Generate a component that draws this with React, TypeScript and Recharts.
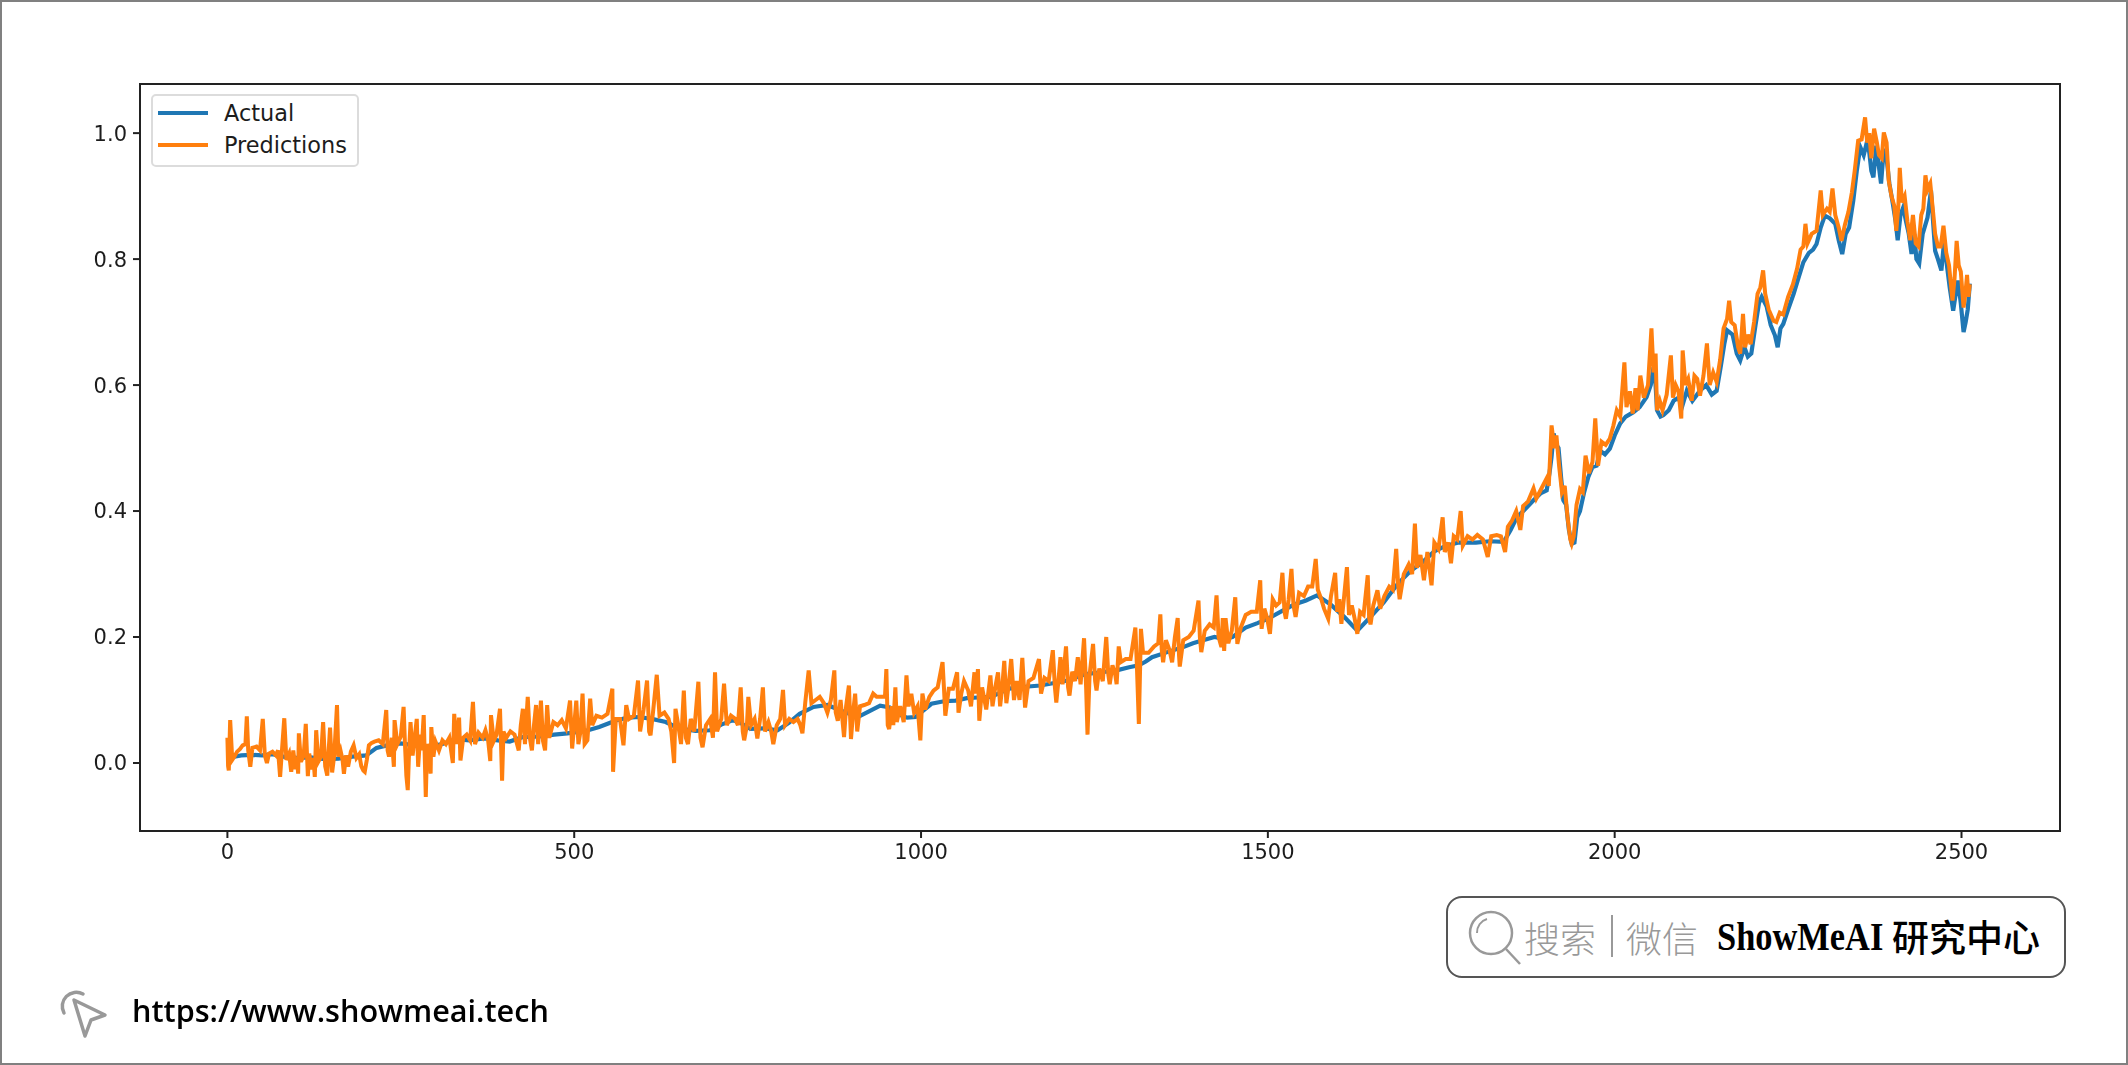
// Actual vs predictions line chart with the ShowMeAI frame around it
import { LineChart, Line, XAxis, YAxis, Legend, ReferenceArea } from 'recharts';

const xTicks = [0, 500, 1000, 1500, 2000, 2500];
const yTicks = [0, 0.2, 0.4, 0.6, 0.8, 1.0];
const xDomain = [-126, 2642];
const yDomain = [-0.108, 1.078];

// [index, value]
const actualLow: [number, number][] = [
  [0, 0.006], [10, 0.01], [20, 0.012], [35, 0.013], [50, 0.012], [65, 0.014], [80, 0.01], [100, 0.008], [120, 0.009], [140, 0.006], [160, 0.007], [180, 0.01],
  [200, 0.012], [215, 0.024], [230, 0.028], [250, 0.031], [270, 0.028], [290, 0.026], [310, 0.03], [330, 0.038], [349, 0.036], [370, 0.039], [390, 0.036], [407, 0.034],
  [425, 0.041], [450, 0.042], [471, 0.045], [490, 0.047], [503, 0.049], [520, 0.052], [536, 0.057], [550, 0.063], [561, 0.068], [578, 0.072], [593, 0.073], [612, 0.07],
  [632, 0.065], [645, 0.058], [657, 0.054], [675, 0.051], [696, 0.052], [712, 0.061], [729, 0.068], [742, 0.062], [754, 0.054], [775, 0.055], [793, 0.052], [810, 0.064],
  [825, 0.078], [845, 0.089], [865, 0.092], [885, 0.083], [909, 0.073], [925, 0.082], [941, 0.091], [955, 0.088], [966, 0.078], [980, 0.072], [992, 0.073], [1004, 0.084],
  [1015, 0.094], [1033, 0.098], [1050, 0.099], [1066, 0.103], [1082, 0.104], [1101, 0.105], [1115, 0.112], [1127, 0.118], [1150, 0.121], [1172, 0.123], [1192, 0.127], [1211, 0.131],
  [1224, 0.136], [1237, 0.141], [1260, 0.144], [1282, 0.147], [1300, 0.152], [1314, 0.155], [1324, 0.161], [1333, 0.168], [1355, 0.176], [1378, 0.184], [1392, 0.19], [1404, 0.194],
  [1423, 0.2], [1436, 0.197], [1449, 0.2], [1468, 0.215], [1485, 0.222], [1500, 0.229], [1520, 0.241], [1539, 0.252], [1555, 0.258], [1571, 0.266], [1590, 0.252], [1610, 0.232],
  [1629, 0.21], [1648, 0.232], [1667, 0.255], [1687, 0.284], [1706, 0.305], [1722, 0.318], [1740, 0.336], [1757, 0.345], [1775, 0.35], [1800, 0.35], [1820, 0.352], [1840, 0.351],
];

const actualHigh: [number, number][] = [
  [1850, 0.37], [1859, 0.39], [1870, 0.402], [1883, 0.417], [1893, 0.428], [1902, 0.433], [1906, 0.46], [1909, 0.486], [1912, 0.523], [1916, 0.505], [1919, 0.5], [1923, 0.45],
  [1926, 0.417], [1930, 0.41], [1934, 0.37], [1938, 0.348], [1942, 0.35], [1946, 0.39], [1950, 0.4], [1956, 0.43], [1962, 0.454], [1968, 0.47], [1974, 0.472], [1979, 0.496],
  [1986, 0.49], [1993, 0.499], [2000, 0.52], [2008, 0.539], [2016, 0.55], [2027, 0.557], [2036, 0.565], [2046, 0.581], [2052, 0.6], [2056, 0.628], [2059, 0.6], [2061, 0.56],
  [2066, 0.55], [2070, 0.552], [2078, 0.56], [2085, 0.575], [2092, 0.58], [2097, 0.565], [2104, 0.591], [2112, 0.575], [2123, 0.591], [2132, 0.6], [2140, 0.585], [2147, 0.591],
  [2153, 0.63], [2158, 0.665], [2162, 0.687], [2170, 0.68], [2176, 0.65], [2181, 0.639], [2187, 0.66], [2192, 0.645], [2197, 0.65], [2203, 0.695], [2208, 0.73], [2212, 0.74],
  [2219, 0.725], [2225, 0.695], [2231, 0.679], [2235, 0.66], [2239, 0.69], [2243, 0.697], [2250, 0.72], [2258, 0.745], [2265, 0.77], [2272, 0.795], [2280, 0.81], [2286, 0.815],
  [2291, 0.824], [2297, 0.85], [2303, 0.869], [2310, 0.865], [2318, 0.856], [2323, 0.83], [2328, 0.808], [2333, 0.84], [2338, 0.85], [2344, 0.893], [2349, 0.94], [2354, 0.978],
  [2359, 0.965], [2363, 0.983], [2367, 0.97], [2370, 0.94], [2373, 0.93], [2377, 0.98], [2380, 0.955], [2384, 0.92], [2388, 0.975], [2392, 0.96], [2396, 0.92], [2401, 0.888],
  [2405, 0.86], [2408, 0.83], [2412, 0.87], [2416, 0.882], [2420, 0.86], [2424, 0.84], [2428, 0.808], [2432, 0.84], [2435, 0.8], [2439, 0.793], [2444, 0.84], [2451, 0.866],
  [2456, 0.909], [2459, 0.86], [2462, 0.813], [2466, 0.8], [2471, 0.782], [2475, 0.829], [2479, 0.79], [2483, 0.755], [2488, 0.718], [2491, 0.74], [2495, 0.766], [2499, 0.73],
  [2503, 0.684], [2506, 0.7], [2509, 0.72], [2512, 0.761],
];

const predictionsEarly: [number, number][] = [
  [0, 0.04], [1, -0.005], [2, -0.012], [4, 0.068], [7, 0.005], [10, 0.01], [14, 0.018], [18, 0.022], [22, 0.028], [26, 0.03], [28, 0.074], [30, 0.02], [33, -0.006], [36, 0.024],
  [42, 0.026], [47, 0.02], [51, 0.07], [54, 0.012], [57, 0], [60, 0.015], [65, 0.018], [70, 0.012], [73, 0.02], [76, -0.022], [78, 0.01], [82, 0.071], [85, 0.005], [89, 0.015],
  [92, -0.014], [95, 0.02], [98, -0.01], [100, 0.01], [102, -0.017], [103, 0.047], [106, 0.002], [110, 0.012], [113, 0.062], [116, -0.021], [118, 0.015], [121, -0.01], [124, 0.008],
  [126, -0.022], [128, 0.052], [131, 0.002], [135, 0.01], [138, 0.065], [141, -0.005], [144, -0.02], [146, 0.02], [148, 0.056], [151, -0.015], [154, 0.012], [158, 0.092], [160, 0.01],
  [163, 0.02], [166, 0.005], [168, -0.017], [171, 0.012], [174, -0.006], [178, 0.018], [182, 0.028], [186, 0.008], [190, 0.014], [193, -0.005], [196, -0.012], [198, -0.014], [201, 0.005],
  [204, 0.028], [208, 0.032], [212, 0.034], [218, 0.036], [224, 0.03], [229, 0.084], [231, 0.02], [233, 0.01], [237, 0.04], [240, -0.006], [241, 0.068], [245, 0.03], [250, 0.042],
  [254, 0.089], [256, 0.03], [258, -0.02], [260, -0.043], [262, 0.02], [264, 0.065], [267, 0.012], [270, 0.04], [273, 0.07], [275, -0.006], [278, 0.045], [280, 0.02], [283, 0.076],
  [286, -0.054], [288, 0.03], [291, 0.02], [293, -0.017], [294, 0.057], [297, 0.01], [300, 0.034], [305, 0.02], [310, 0.036], [315, 0.03], [320, 0.04], [325, 0], [327, 0.078], [330, 0.03],
  [334, 0.072], [336, 0.004], [340, 0.04], [345, 0.045], [350, 0.036], [354, 0.097], [357, 0.03], [362, 0.048], [368, 0.04], [372, 0.052], [376, 0.035], [379, 0.003], [380, 0.076], [384, 0.035],
  [388, 0.045], [393, 0.086], [396, -0.028], [398, 0.05], [402, 0.04], [408, 0.05], [414, 0.045], [420, 0.02], [423, 0.06], [426, 0.086], [429, 0.03], [433, 0.105], [436, 0.04], [439, 0.02],
  [442, 0.06], [445, 0.092], [448, 0.03], [452, 0.099], [455, 0.035], [458, 0.02], [461, 0.092], [464, 0.04], [470, 0.065], [476, 0.06], [482, 0.068], [488, 0.055], [494, 0.099], [497, 0.023],
  [500, 0.06], [503, 0.099], [506, 0.03], [509, 0.05], [512, 0.11], [515, 0.03], [519, 0.036], [523, 0.102], [526, 0.06], [532, 0.075], [540, 0.072], [548, 0.078], [555, 0.118], [556, -0.014],
  [560, 0.07], [566, 0.07], [571, 0.028], [575, 0.092], [579, 0.07], [586, 0.075], [592, 0.131], [595, 0.05], [600, 0.085], [605, 0.131], [608, 0.05], [610, 0.044], [614, 0.085], [619, 0.14],
  [623, 0.075], [630, 0.08], [636, 0.07], [640, 0.05], [644, 0], [646, 0.086], [650, 0.06], [654, 0.03], [658, 0.115], [661, 0.04], [664, 0.03], [668, 0.07], [673, 0.05], [679, 0.129], [682, 0.04],
  [685, 0.025], [690, 0.06], [696, 0.07], [700, 0.04], [703, 0.144], [706, 0.05], [712, 0.07], [716, 0.126], [720, 0.06], [726, 0.075], [732, 0.07], [736, 0.06], [740, 0.12], [743, 0.05],
  [745, 0.036], [749, 0.06], [751, 0.105], [755, 0.06], [760, 0.07], [764, 0.039], [768, 0.07], [772, 0.12], [775, 0.05], [780, 0.065], [784, 0.05], [787, 0.03], [792, 0.06], [797, 0.07],
  [801, 0.116], [804, 0.06], [810, 0.07], [816, 0.065], [822, 0.07], [826, 0.06], [829, 0.047], [833, 0.095], [838, 0.147], [842, 0.095], [848, 0.1], [854, 0.105], [860, 0.095],
];

const predictionsMid: [number, number][] = [
  [865, 0.08], [870, 0.1], [875, 0.147], [877, 0.08], [880, 0.067], [884, 0.1], [889, 0.041], [892, 0.09], [896, 0.123], [899, 0.038], [902, 0.08], [905, 0.11], [908, 0.05], [912, 0.09],
  [918, 0.092], [925, 0.095], [931, 0.11], [936, 0.105], [942, 0.105], [948, 0.105], [950, 0.149], [952, 0.06], [954, 0.054], [958, 0.09], [960, 0.06], [963, 0.12], [965, 0.065], [970, 0.09],
  [975, 0.065], [979, 0.139], [982, 0.09], [986, 0.11], [990, 0.08], [995, 0.09], [999, 0.036], [1002, 0.11], [1006, 0.085], [1012, 0.105], [1018, 0.115], [1024, 0.12], [1031, 0.16], [1033, 0.12],
  [1035, 0.075], [1040, 0.118], [1046, 0.118], [1052, 0.144], [1054, 0.08], [1058, 0.11], [1062, 0.13], [1068, 0.115], [1072, 0.09], [1077, 0.144], [1079, 0.11], [1082, 0.149], [1084, 0.067],
  [1088, 0.12], [1094, 0.085], [1100, 0.139], [1103, 0.09], [1107, 0.12], [1111, 0.144], [1114, 0.09], [1117, 0.12], [1120, 0.162], [1123, 0.095], [1126, 0.12], [1130, 0.165], [1134, 0.1],
  [1138, 0.13], [1142, 0.1], [1146, 0.167], [1150, 0.088], [1155, 0.13], [1162, 0.135], [1170, 0.165], [1173, 0.11], [1178, 0.135], [1184, 0.13], [1190, 0.179], [1193, 0.12], [1195, 0.096],
  [1198, 0.13], [1201, 0.168], [1204, 0.125], [1209, 0.185], [1212, 0.12], [1214, 0.107], [1218, 0.145], [1222, 0.13], [1226, 0.168], [1230, 0.125], [1235, 0.198], [1238, 0.12], [1240, 0.045],
  [1243, 0.14], [1248, 0.189], [1251, 0.13], [1253, 0.115], [1257, 0.15], [1262, 0.13], [1267, 0.2], [1270, 0.14], [1272, 0.125], [1276, 0.155], [1280, 0.14], [1282, 0.125], [1285, 0.185],
  [1288, 0.16], [1295, 0.165], [1302, 0.165], [1309, 0.215], [1311, 0.16], [1314, 0.062], [1316, 0.16], [1317, 0.213], [1320, 0.175], [1328, 0.175], [1336, 0.185], [1342, 0.19], [1345, 0.236],
  [1347, 0.18], [1349, 0.16], [1353, 0.195], [1358, 0.18], [1362, 0.16], [1366, 0.2], [1370, 0.23], [1372, 0.17], [1373, 0.153], [1378, 0.195], [1386, 0.2], [1393, 0.21], [1400, 0.258], [1402, 0.2],
  [1404, 0.176], [1409, 0.21], [1416, 0.22], [1422, 0.215], [1426, 0.266], [1429, 0.2], [1433, 0.184], [1435, 0.23], [1437, 0.178], [1439, 0.23], [1443, 0.19], [1448, 0.21], [1453, 0.263],
  [1456, 0.189], [1461, 0.215], [1468, 0.235], [1476, 0.24], [1484, 0.24], [1489, 0.29], [1491, 0.213], [1495, 0.245], [1499, 0.23], [1503, 0.205], [1507, 0.26], [1512, 0.25], [1517, 0.255],
  [1521, 0.302], [1524, 0.24], [1526, 0.229], [1530, 0.26], [1534, 0.308], [1537, 0.25], [1540, 0.232], [1545, 0.27], [1552, 0.265], [1558, 0.28], [1564, 0.28], [1569, 0.324], [1572, 0.275],
  [1577, 0.26], [1581, 0.245], [1587, 0.229], [1591, 0.265], [1597, 0.302], [1600, 0.24], [1603, 0.26], [1606, 0.221], [1610, 0.265], [1614, 0.311], [1617, 0.235], [1621, 0.25], [1625, 0.23],
  [1629, 0.205], [1633, 0.24], [1638, 0.235], [1644, 0.298], [1646, 0.23], [1648, 0.22], [1652, 0.25], [1658, 0.274], [1662, 0.245], [1668, 0.265], [1675, 0.28], [1680, 0.275], [1685, 0.34],
  [1688, 0.28], [1690, 0.26], [1696, 0.3], [1703, 0.315], [1708, 0.3], [1712, 0.38], [1715, 0.31], [1720, 0.33], [1725, 0.29], [1730, 0.335], [1736, 0.282], [1740, 0.35], [1746, 0.34], [1752, 0.39],
  [1755, 0.335], [1760, 0.35], [1764, 0.317], [1768, 0.36], [1773, 0.355], [1778, 0.4], [1781, 0.345], [1788, 0.36], [1795, 0.355], [1802, 0.362], [1810, 0.355], [1817, 0.327], [1822, 0.36],
  [1830, 0.362], [1836, 0.36], [1842, 0.335], [1846, 0.375],
];

const predictionsLate: [number, number][] = [
  [1852, 0.385], [1858, 0.4], [1864, 0.37], [1868, 0.408], [1875, 0.415], [1883, 0.436], [1887, 0.42], [1894, 0.435], [1902, 0.452], [1905, 0.44], [1909, 0.536], [1913, 0.5], [1916, 0.52], [1920, 0.47],
  [1924, 0.43], [1928, 0.44], [1932, 0.39], [1936, 0.355], [1938, 0.348], [1941, 0.36], [1945, 0.41], [1950, 0.435], [1954, 0.43], [1958, 0.488], [1963, 0.46], [1968, 0.478], [1972, 0.547],
  [1974, 0.51], [1976, 0.472], [1981, 0.51], [1987, 0.505], [1993, 0.515], [1998, 0.535], [2003, 0.56], [2008, 0.55], [2014, 0.636], [2017, 0.565], [2022, 0.59], [2026, 0.555], [2030, 0.595],
  [2033, 0.56], [2037, 0.615], [2042, 0.58], [2048, 0.6], [2053, 0.69], [2056, 0.62], [2059, 0.65], [2061, 0.56], [2065, 0.575], [2069, 0.56], [2075, 0.585], [2081, 0.647], [2084, 0.58],
  [2088, 0.6], [2092, 0.59], [2096, 0.547], [2098, 0.655], [2102, 0.6], [2106, 0.61], [2111, 0.575], [2115, 0.615], [2119, 0.61], [2123, 0.583], [2128, 0.615], [2133, 0.666], [2137, 0.6], [2142, 0.62],
  [2147, 0.605], [2152, 0.64], [2157, 0.69], [2162, 0.705], [2165, 0.734], [2168, 0.7], [2173, 0.695], [2178, 0.66], [2181, 0.65], [2185, 0.713], [2188, 0.66], [2192, 0.68], [2196, 0.665], [2201, 0.7],
  [2206, 0.745], [2210, 0.755], [2214, 0.782], [2217, 0.745], [2222, 0.72], [2229, 0.702], [2233, 0.7], [2238, 0.715], [2243, 0.712], [2250, 0.74], [2257, 0.76], [2263, 0.785], [2268, 0.815],
  [2272, 0.82], [2275, 0.856], [2278, 0.825], [2284, 0.84], [2291, 0.845], [2297, 0.909], [2300, 0.87], [2306, 0.88], [2310, 0.875], [2314, 0.912], [2318, 0.87], [2323, 0.85], [2327, 0.829],
  [2332, 0.855], [2337, 0.875], [2342, 0.906], [2346, 0.94], [2351, 0.988], [2356, 0.99], [2361, 1.025], [2364, 0.985], [2367, 1.0], [2370, 0.96], [2374, 1.007], [2378, 0.985], [2381, 0.965],
  [2385, 0.96], [2388, 1.001], [2392, 0.985], [2395, 0.925], [2399, 0.9], [2403, 0.885], [2406, 0.845], [2409, 0.885], [2411, 0.945], [2414, 0.89], [2418, 0.9], [2422, 0.86], [2426, 0.83], [2430, 0.87],
  [2434, 0.825], [2438, 0.82], [2442, 0.87], [2445, 0.88], [2448, 0.933], [2451, 0.91], [2455, 0.92], [2459, 0.875], [2462, 0.84], [2466, 0.82], [2470, 0.82], [2474, 0.853], [2478, 0.81], [2482, 0.79],
  [2487, 0.734], [2490, 0.77], [2493, 0.829], [2496, 0.79], [2499, 0.78], [2503, 0.723], [2506, 0.75], [2508, 0.775], [2510, 0.74], [2512, 0.76],
];

const actual = [...actualLow, ...actualHigh].map(([x, y]) => ({ x, y }));
const predictions = [...predictionsEarly, ...predictionsMid, ...predictionsLate].map(([x, y]) => ({ x, y }));

const tickStyle = { fontSize: 21, fill: '#1c1c1c', fontFamily: '"DejaVu Sans"' };

function ChartLegend({ payload }: { payload?: { value: string; color: string }[] }) {
  return (
    <div style={{ width: 208, height: 73, boxSizing: 'border-box', border: '2px solid #dcdcdc', borderRadius: 5, background: '#fff', padding: '0 0 0 5px' }}>
      {payload?.map((item) => (
        <div key={item.value} style={{ display: 'flex', alignItems: 'center', height: 32, marginTop: item.value === 'Actual' ? 1 : 0, fontFamily: '"DejaVu Sans"', fontSize: 22.4, color: '#1c1c1c' }}>
          <span style={{ display: 'inline-block', width: 50, height: 3.5, background: item.color, marginRight: 16 }} />
          {item.value}
        </div>
      ))}
    </div>
  );
}

export default function App() {
  return (
    <div style={{ position: 'absolute', left: 0, top: 0, width: 2128, height: 1065, boxSizing: 'border-box', border: '2px solid #808080', background: '#fff', overflow: 'hidden' }}>
      <div style={{ position: 'absolute', left: -2, top: -2, filter: 'blur(0.6px)' }}>
        <LineChart width={2128} height={1065} margin={{ top: 84, right: 68, bottom: 184, left: 70 }}>
          <XAxis
            dataKey="x"
            type="number"
            domain={xDomain}
            ticks={xTicks}
            allowDataOverflow
            height={50}
            tick={tickStyle}
            tickSize={7}
            tickMargin={6}
            stroke="#222"
            strokeWidth={2}
          />
          <YAxis
            type="number"
            domain={yDomain}
            ticks={yTicks}
            allowDataOverflow
            width={70}
            tick={tickStyle}
            tickFormatter={(v: number) => v.toFixed(1)}
            tickSize={7}
            tickMargin={6}
            stroke="#222"
            strokeWidth={2}
          />
          <ReferenceArea x1={xDomain[0]} x2={xDomain[1]} y1={yDomain[0]} y2={yDomain[1]} fill="none" stroke="#222" strokeWidth={2} />
          <Legend
            layout="vertical"
            align="center"
            verticalAlign="middle"
            wrapperStyle={{ left: 151, top: 94, width: 208, height: 73 }}
            content={(props: any) => <ChartLegend payload={props.payload} />}
          />
          <Line data={actual} dataKey="y" name="Actual" stroke="#1f77b4" strokeWidth={4.2} dot={false} isAnimationActive={false} />
          <Line data={predictions} dataKey="y" name="Predictions" stroke="#ff7f0e" strokeWidth={4} dot={false} isAnimationActive={false} />
        </LineChart>
      </div>

      {/* search badge */}
      <div style={{ position: 'absolute', left: 1444, top: 894, width: 620, height: 82, boxSizing: 'border-box', border: '2px solid #555', borderRadius: 16, background: '#fff' }}>
        <svg width="60" height="60" style={{ position: 'absolute', left: 17, top: 10 }}>
          <circle cx="26" cy="25" r="21" fill="none" stroke="#999" strokeWidth="2.5" />
          <path d="M12 25a14 14 0 0 1 10-14" fill="none" stroke="#999" strokeWidth="2" />
          <path d="M41 41L55 56" fill="none" stroke="#999" strokeWidth="2.5" />
        </svg>
        <span style={{ position: 'absolute', left: 76, top: 16, fontFamily: '"Noto Sans CJK SC"', fontWeight: 300, fontSize: 36, lineHeight: '46px', color: '#999', whiteSpace: 'pre' }}>搜索</span>
        <span style={{ position: 'absolute', left: 163, top: 17, width: 2, height: 42, background: '#999' }} />
        <span style={{ position: 'absolute', left: 178, top: 16, fontFamily: '"Noto Sans CJK SC"', fontWeight: 300, fontSize: 36, lineHeight: '46px', color: '#999' }}>微信</span>
        <span style={{ position: 'absolute', left: 269, top: 17, fontFamily: '"Liberation Serif"', fontWeight: 700, fontSize: 40, lineHeight: '44px', color: '#000', display: 'inline-block', transform: 'scaleX(0.86)', transformOrigin: 'left center' }}>ShowMeAI</span>
        <span style={{ position: 'absolute', left: 444, top: 15, fontFamily: '"Noto Sans CJK SC"', fontWeight: 500, fontSize: 37, lineHeight: '46px', color: '#000' }}>研究中心</span>
      </div>

      {/* site link */}
      <svg width="60" height="60" style={{ position: 'absolute', left: 53, top: 984 }}>
        <path d="M19 14L50 29L36 34L30 50Z" fill="none" stroke="#999" strokeWidth="3.5" strokeLinejoin="round" />
        <path d="M9 27A14 14 0 0 1 28 8" fill="none" stroke="#999" strokeWidth="3.5" strokeLinecap="round" />
      </svg>
      <div style={{ position: 'absolute', left: 130, top: 987, fontFamily: '"Open Sans"', fontWeight: 600, fontSize: 30.6, lineHeight: '42px', color: '#000' }}>https://www.showmeai.tech</div>
    </div>
  );
}
